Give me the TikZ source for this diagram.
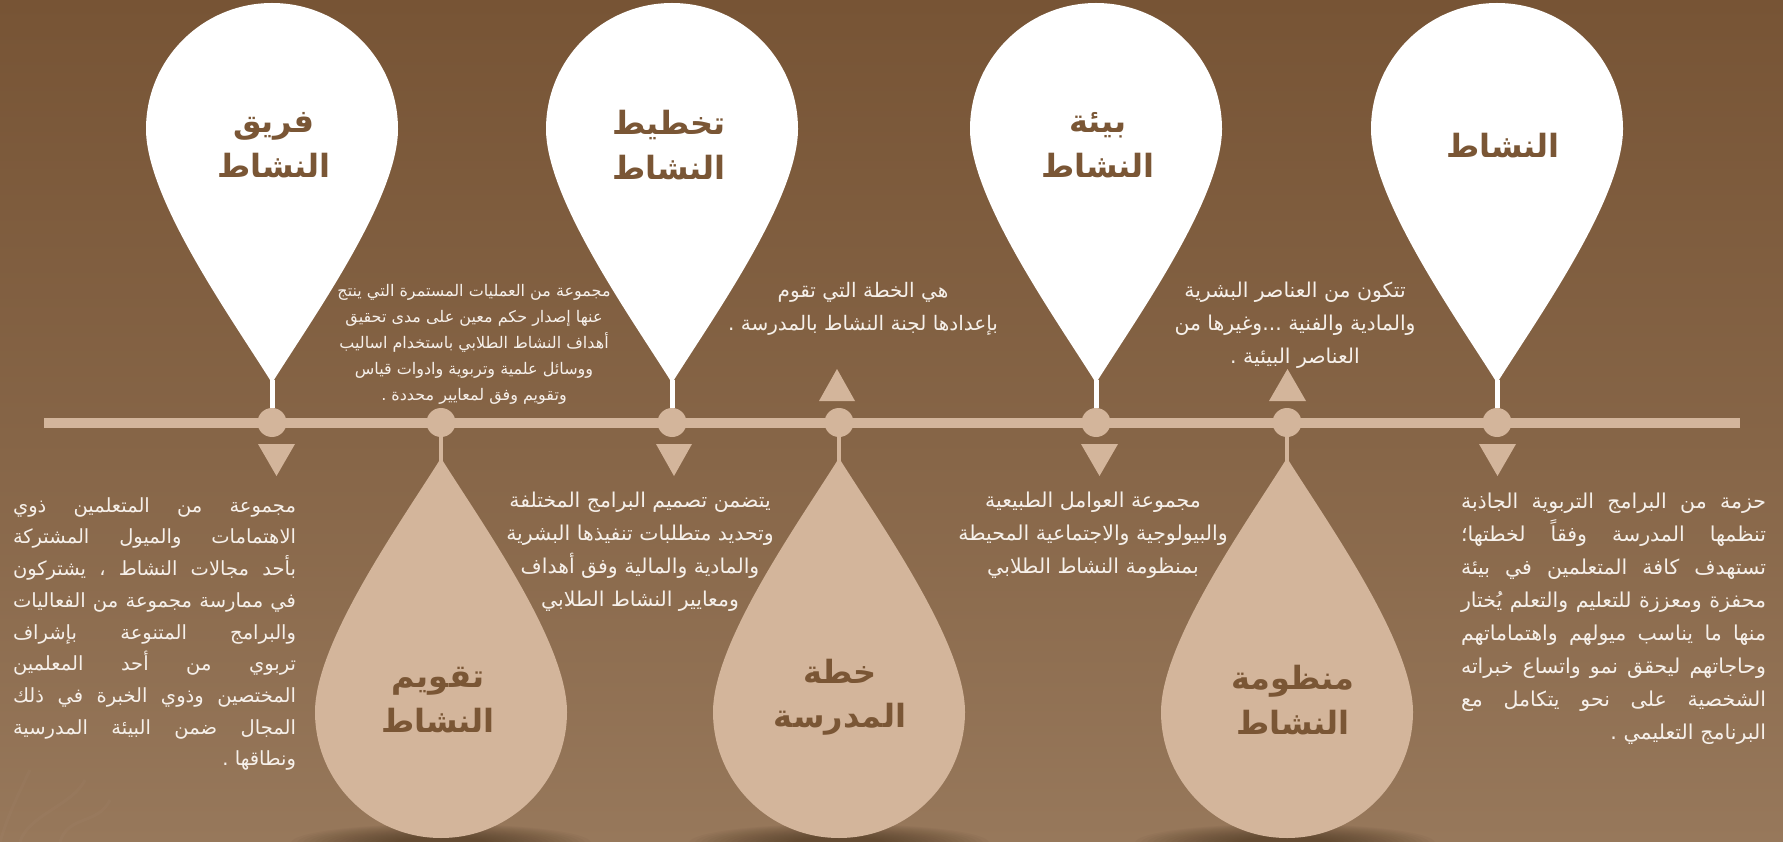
\documentclass[tikz,border=0pt]{standalone}
\usepackage{fontspec}
\TeXXeTstate=1
\newfontfamily\arabicfont[Script=Arabic]{DejaVu Sans}
\definecolor{bgtop}{HTML}{775435}
\definecolor{bgbot}{HTML}{97785B}
\definecolor{tan}{HTML}{D3B59B}
\definecolor{headbrown}{HTML}{7A5635}
\definecolor{bodywhite}{HTML}{F6F0EA}
\definecolor{shadowc}{HTML}{3E2A18}
\newcommand{\RL}[1]{\beginR#1\endR}
\newcommand{\JL}[1]{\hbox to\hsize{\spaceskip=.3em plus 1fil\relax\beginR#1\endR}}
\newcommand{\EL}[1]{\hbox to\hsize{\hfil\beginR#1\endR}}
\newcommand{\dropat}[3]{\fill[#3,shift={(#1,#2)}] (0,254) .. controls (40,190) and (126,70) .. (126,0) .. controls (126,-69.6) and (69.6,-126) .. (0,-126) .. controls (-69.6,-126) and (-126,-69.6) .. (-126,0) .. controls (-126,70) and (-40,190) .. (0,254) -- cycle;}
\newcommand{\dropup}[3]{\fill[#3,shift={(#1,#2)},yscale=-1] (0,254) .. controls (40,190) and (126,70) .. (126,0) .. controls (126,-69.6) and (69.6,-126) .. (0,-126) .. controls (-69.6,-126) and (-126,-69.6) .. (-126,0) .. controls (-126,70) and (-40,190) .. (0,254) -- cycle;}
\tikzset{
  dot/.style={circle,fill=tan,minimum size=29pt,inner sep=0pt,outer sep=0pt},
  timeline/.style={draw=tan,line width=10pt},
  stemw/.style={draw=white,line width=5pt},
  stemt/.style={draw=tan,line width=4pt},
  tri/.style={fill=tan},
  head/.style={text=headbrown,align=center,inner sep=0pt,font={\arabicfont\bfseries\fontsize{32}{44.5}\selectfont}},
  bodyc/.style={text=bodywhite,align=center,inner sep=0pt,font={\arabicfont\fontsize{#1}{33}\selectfont}},
  bodyj/.style={text=bodywhite,inner sep=0pt,font={\arabicfont\fontsize{#1}{33}\selectfont}},
  bodyk/.style={text=bodywhite,inner sep=0pt,font={\arabicfont\fontsize{#1}{31.7}\selectfont}},
}
\begin{document}
\begin{tikzpicture}[x=1pt,y=-1pt]
\useasboundingbox (0,0) rectangle (1783,842);
\shade[top color=bgtop,bottom color=bgbot,middle color=bgtop!55!bgbot] (0,0) rectangle (1783,842);
\begin{scope}
\clip (0,0) rectangle (1783,842);
% faint leaf streaks, lower left
\foreach \xa/\xb/\ya in {0/30/770,20/85/780,60/110/800}{
  \draw[white,opacity=0.018,line width=3pt] (\xa,842) .. controls (\xa+8,815) and (\xb-12,\ya+25) .. (\xb,\ya);
}
% soft shadows under the lower drops
\foreach \cx in {441,839,1285}{
  \foreach \rr in {1,0.96,...,0.3}{
    \fill[shadowc,opacity=0.04] (\cx,843) ellipse ({150*\rr} and {19*\rr});
  }
}
\end{scope}
% timeline ends
\coordinate (la) at (44,422.5);
\coordinate (lb) at (1740,422.5);
\draw[timeline] (la) -- (lb);
% hubs
\node[dot] (n1) at (272,422.5) {};
\node[dot] (n2) at (441,422.5) {};
\node[dot] (n3) at (672,422.5) {};
\node[dot] (n4) at (839,422.5) {};
\node[dot] (n5) at (1096,422.5) {};
\node[dot] (n6) at (1287,422.5) {};
\node[dot] (n7) at (1497,422.5) {};
% drop tips
\coordinate (t1) at (272,380);
\coordinate (t3) at (672,380);
\coordinate (t5) at (1096,380);
\coordinate (t7) at (1497,380);
\coordinate (t2) at (441,462);
\coordinate (t4) at (839,462);
\coordinate (t6) at (1287,462);
\draw[stemw] (t1) -- (n1.north);
\draw[stemw] (t3) -- (n3.north);
\draw[stemw] (t5) -- (n5.north);
\draw[stemw] (t7) -- (n7.north);
\draw[stemt] (n2.south) -- (t2);
\draw[stemt] (n4.south) -- (t4);
\draw[stemt] (n6.south) -- (t6);
% drops
\dropat{272}{129}{white}
\dropat{672}{129}{white}
\dropat{1096}{129}{white}
\dropat{1497}{129}{white}
\dropup{441}{712}{tan}
\dropup{839}{712}{tan}
\dropup{1287}{712}{tan}
% triangles
\fill[tri] (258,444) -- (295,444) -- (276.5,476) -- cycle;
\fill[tri] (656,444) -- (692,444) -- (674,476) -- cycle;
\fill[tri] (1081,444) -- (1118,444) -- (1099.5,476) -- cycle;
\fill[tri] (1479,444) -- (1516,444) -- (1497.5,476) -- cycle;
\fill[tri] (819,401) -- (855,401) -- (837,369) -- cycle;
\fill[tri] (1269,401) -- (1306,401) -- (1287.5,369) -- cycle;
% headings
\node[head] (h1) at (274,145) {\RL{فريق}\\\RL{النشاط}};
\node[head] (h3) at (669,145) {\RL{تخطيط}\\\RL{النشاط}};
\node[head] (h5) at (1098,145) {\RL{بيئة}\\\RL{النشاط}};
\node[head] (h7) at (1503,146) {\RL{النشاط}};
\node[head] (h2) at (438,700) {\RL{تقويم}\\\RL{النشاط}};
\node[head] (h4) at (840,697) {\RL{خطة}\\\RL{المدرسة}};
\node[head] (h6) at (1293,700) {\RL{منظومة}\\\RL{النشاط}};
% body texts
\node[bodyk=19.5,text width=283pt] (b1) at (154.5,634) {%
\JL{مجموعة من المتعلمين ذوي}
\JL{الاهتمامات والميول المشتركة}
\JL{بأحد مجالات النشاط ، يشتركون}
\JL{في ممارسة مجموعة من الفعاليات}
\JL{والبرامج المتنوعة بإشراف}
\JL{تربوي من أحد المعلمين}
\JL{المختصين وذوي الخبرة في ذلك}
\JL{المجال ضمن البيئة المدرسية}
\EL{ونطاقها .}};
\node[bodyj=20.5,text width=305pt] (b7) at (1613.5,618.5) {%
\JL{حزمة من البرامج التربوية الجاذبة}
\JL{تنظمها المدرسة وفقاً لخطتها؛}
\JL{تستهدف كافة المتعلمين في بيئة}
\JL{محفزة ومعززة للتعليم والتعلم يُختار}
\JL{منها ما يناسب ميولهم واهتماماتهم}
\JL{وحاجاتهم ليحقق نمو واتساع خبراته}
\JL{الشخصية على نحو يتكامل مع}
\EL{البرنامج التعليمي .}};
\node[text=bodywhite,align=center,inner sep=0pt,font={\arabicfont\fontsize{16}{26}\selectfont}] (b2) at (474,344) {%
\RL{مجموعة من العمليات المستمرة التي ينتج}\\
\RL{عنها إصدار حكم معين على مدى تحقيق}\\
\RL{أهداف النشاط الطلابي باستخدام اساليب}\\
\RL{ووسائل علمية وتربوية وادوات قياس}\\
\RL{وتقويم وفق لمعايير محددة .}};
\node[bodyc=20] (b4) at (863,309) {%
\RL{هي الخطة التي تقوم}\\
\RL{بإعدادها لجنة النشاط بالمدرسة .}};
\node[bodyc=20.4] (b6) at (1295,325) {%
\RL{تتكون من العناصر البشرية}\\
\RL{والمادية والفنية ...وغيرها من}\\
\RL{العناصر البيئية .}};
\node[bodyc=20.4] (b3) at (640,552) {%
\RL{يتضمن تصميم البرامج المختلفة}\\
\RL{وتحديد متطلبات تنفيذها البشرية}\\
\RL{والمادية والمالية وفق أهداف}\\
\RL{ومعايير النشاط الطلابي}};
\node[bodyc=20.5] (b5) at (1093,535) {%
\RL{مجموعة العوامل الطبيعية}\\
\RL{والبيولوجية والاجتماعية المحيطة}\\
\RL{بمنظومة النشاط الطلابي}};
\end{tikzpicture}
\end{document}
